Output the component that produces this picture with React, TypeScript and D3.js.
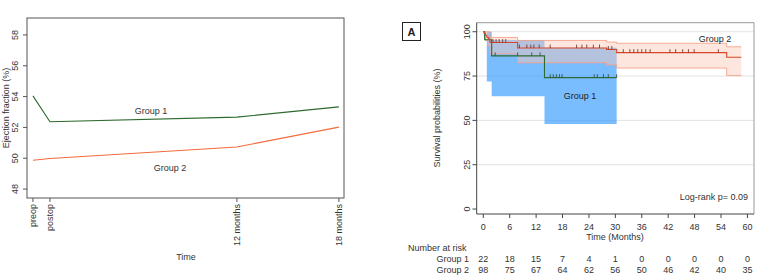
import React from "react";
import * as d3 from "d3";

// ---------- Left panel data ----------
const efTimes = [0, 1, 12, 18];
const efLabels = ["preop", "postop", "12 months", "18 months"];
const efGroup1 = [54.05, 52.37, 52.67, 53.33];
const efGroup2 = [49.87, 49.98, 50.73, 52.02];
const efYTicks = [48, 50, 52, 54, 56, 58];

// ---------- Right panel data ----------
const g1Time = [0, 0.3, 1.9, 13.9, 30.3];
const g1Surv = [100, 95.5, 86.4, 74.1, 74.1];
const g1CiTime = [0, 0.8, 1.9, 13.9, 30.3];
const g1Upper = [100, 100, 95.3, 91, 91];
const g1Lower = [100, 72, 63.6, 47.9, 47.9];
const g1Censor = [2.7, 7.8, 11, 12.9, 15.2, 15.9, 16.6, 17.3, 17.9, 25.2, 25.9, 27.3, 28.4, 30.3];

const g2Time = [0, 0.2, 0.5, 0.8, 1.2, 1.5, 7.8, 28, 30.3, 55.3, 58.6];
const g2Surv = [100, 99, 98, 96.9, 95.9, 93.9, 90.8, 90.0, 88.2, 85.6, 85.6];
const g2CiTime = [0, 0.5, 1.0, 1.5, 7.8, 28, 30.3, 55.3, 58.6];
const g2Upper = [100, 100, 100, 96.8, 95.1, 94.2, 93.5, 91.5, 91.5];
const g2Lower = [100, 95, 92, 87.5, 82.5, 81.3, 79.5, 75.3, 75.3];
const g2Censor = [2.2, 2.9, 3.6, 4.4, 5.1, 8.2, 9.9, 10.8, 11.5, 12.7, 15.2, 21.2, 22.4, 23.5, 25, 26.4, 28.4, 29.2,
  31.8, 33.3, 34.2, 35.1, 36.0, 36.9, 37.9, 42.4, 43.7, 45.3, 46.6, 47.9, 53.4];

const kmXTicks = [0, 6, 12, 18, 24, 30, 36, 42, 48, 54, 60];
const kmYTicks = [0, 25, 50, 75, 100];
const kmGrid = [25, 50, 75, 100];
const risk1 = [22, 18, 15, 7, 4, 1, 0, 0, 0, 0, 0];
const risk2 = [98, 75, 67, 64, 62, 56, 50, 46, 42, 40, 35];

const FONT = "'Liberation Sans', Arial, sans-serif";

function stepAt(times: number[], vals: number[], t: number) {
  let v = vals[0];
  for (let i = 0; i < times.length; i++) if (times[i] <= t) v = vals[i];
  return v;
}

export default function App() {
  // left scales
  const lx = d3.scaleLinear().domain([-0.35, 18.3]).range([27, 344]);
  const ly = d3.scaleLinear().domain([47.42, 59.1]).range([198, 18]);
  const efLine = d3.line<number>().x((_, i) => lx(efTimes[i])).y((d) => ly(d));

  // right scales
  const rx = d3.scaleLinear().domain([-1.5, 61.5]).range([476.7, 754]);
  const ry = d3.scaleLinear().domain([-2.8, 105.1]).range([214, 22.7]);
  const kmLine = (t: number[], s: number[]) =>
    d3.line<number>().curve(d3.curveStepAfter).x((_, i) => rx(t[i])).y((d) => ry(d))(s) || "";
  const kmArea = (t: number[], lo: number[], hi: number[]) =>
    d3.area<number>().curve(d3.curveStepAfter).x((_, i) => rx(t[i])).y0((_, i) => ry(lo[i])).y1((d) => ry(d))(hi) || "";

  const green = "#2f6b35";
  const red = "#d8462a";

  return (
    <svg width={769} height={280} style={{ position: "absolute", left: 0, top: 0, fontFamily: FONT }}>
      <rect width={769} height={280} fill="#fff" />
      {/* ---------- Left panel ---------- */}
      <rect x={27} y={18} width={317} height={180} fill="none" stroke="#555" strokeWidth={1} />
      {efYTicks.map((v) => (
        <g key={v}>
          <line x1={23} x2={27} y1={ly(v)} y2={ly(v)} stroke="#555" />
          <text transform={`translate(18,${ly(v)}) rotate(-90)`} textAnchor="middle" fontSize={9} fill="#333">{v}</text>
        </g>
      ))}
      {efTimes.map((t, i) => (
        <g key={t}>
          <line x1={lx(t)} x2={lx(t)} y1={198} y2={202} stroke="#555" />
          <text transform={`translate(${lx(t) + 3},${204}) rotate(-90)`} textAnchor="end" fontSize={9} fill="#333">{efLabels[i]}</text>
        </g>
      ))}
      <text transform={`translate(9,108) rotate(-90)`} textAnchor="middle" fontSize={9} fill="#333">Ejection fraction (%)</text>
      <text x={186} y={260} textAnchor="middle" fontSize={9} fill="#333">Time</text>
      <path d={efLine(efGroup1) || ""} fill="none" stroke="#2d6a2d" strokeWidth={1.1} />
      <path d={efLine(efGroup2) || ""} fill="none" stroke="#f26a3c" strokeWidth={1.1} />
      <text x={151} y={114} textAnchor="middle" fontSize={9} fill="#333">Group 1</text>
      <text x={170} y={171} textAnchor="middle" fontSize={9} fill="#333">Group 2</text>

      {/* ---------- Right panel ---------- */}
      <rect x={402.5} y={22.5} width={18} height={18} fill="#fff" stroke="#222" strokeWidth={1} />
      <text x={411.5} y={35.5} textAnchor="middle" fontSize={11} fontWeight="bold" fill="#222">A</text>

      {kmGrid.map((v) => (
        <line key={v} x1={476.7} x2={754} y1={ry(v)} y2={ry(v)} stroke="#e3e3e3" strokeWidth={1} />
      ))}
      <path d={kmArea(g1CiTime, g1Lower, g1Upper)} fill="#3399ff" fillOpacity={0.65} />
      <path d={kmArea(g2CiTime, g2Lower, g2Upper)} fill="#fbc8b4" fillOpacity={0.45} />
      <path d={kmLine(g2CiTime, g2Upper)} fill="none" stroke="#f5a38a" strokeWidth={0.9} />
      <path d={kmLine(g2CiTime, g2Lower)} fill="none" stroke="#f5a38a" strokeWidth={0.9} />
      <path d={kmLine(g1Time, g1Surv)} fill="none" stroke={green} strokeWidth={1.1} />
      <path d={kmLine(g2Time, g2Surv)} fill="none" stroke={red} strokeWidth={1.1} />
      {g1Censor.map((t, i) => {
        const y = ry(stepAt(g1Time, g1Surv, t));
        return <line key={"c1" + i} x1={rx(t)} x2={rx(t)} y1={y - 3.5} y2={y} stroke="#2a4a2a" strokeWidth={0.8} />;
      })}
      {g2Censor.map((t, i) => {
        const y = ry(stepAt(g2Time, g2Surv, t));
        return <line key={"c2" + i} x1={rx(t)} x2={rx(t)} y1={y - 3.5} y2={y} stroke="#6b2a1a" strokeWidth={0.8} />;
      })}

      {/* frame */}
      <line x1={476.7} x2={754} y1={22.7} y2={22.7} stroke="#999" />
      <line x1={754} x2={754} y1={22.7} y2={214} stroke="#999" />
      <line x1={476.7} x2={476.7} y1={22.7} y2={214} stroke="#444" />
      <line x1={476.7} x2={754} y1={214} y2={214} stroke="#444" />

      {kmYTicks.map((v) => (
        <g key={v}>
          <line x1={472.5} x2={476.7} y1={ry(v)} y2={ry(v)} stroke="#444" />
          <text transform={`translate(470,${ry(v)}) rotate(-90)`} textAnchor="middle" fontSize={9} fill="#333">{v}</text>
        </g>
      ))}
      {kmXTicks.map((t) => (
        <g key={t}>
          <line x1={rx(t)} x2={rx(t)} y1={214} y2={218} stroke="#444" />
          <text x={rx(t)} y={230} textAnchor="middle" fontSize={9} fill="#333">{t}</text>
        </g>
      ))}
      <text x={615} y={239.5} textAnchor="middle" fontSize={9} fill="#333">Time (Months)</text>
      <text transform={`translate(440,118) rotate(-90)`} textAnchor="middle" fontSize={9} fill="#333">Survival probabilities (%)</text>
      <text x={748} y={200} textAnchor="end" fontSize={9} fill="#333">Log-rank p= 0.09</text>
      <text x={580} y={99} textAnchor="middle" fontSize={9} fill="#222">Group 1</text>
      <text x={715} y={42} textAnchor="middle" fontSize={9} fill="#222">Group 2</text>

      <text x={408} y={251} fontSize={9} fill="#333">Number at risk</text>
      <text x={469} y={262} textAnchor="end" fontSize={9} fill="#333">Group 1</text>
      <text x={469} y={272.5} textAnchor="end" fontSize={9} fill="#333">Group 2</text>
      {kmXTicks.map((t, i) => (
        <g key={"r" + t}>
          <text x={rx(t)} y={262} textAnchor="middle" fontSize={9} fill="#333">{risk1[i]}</text>
          <text x={rx(t)} y={272.5} textAnchor="middle" fontSize={9} fill="#333">{risk2[i]}</text>
        </g>
      ))}
    </svg>
  );
}
